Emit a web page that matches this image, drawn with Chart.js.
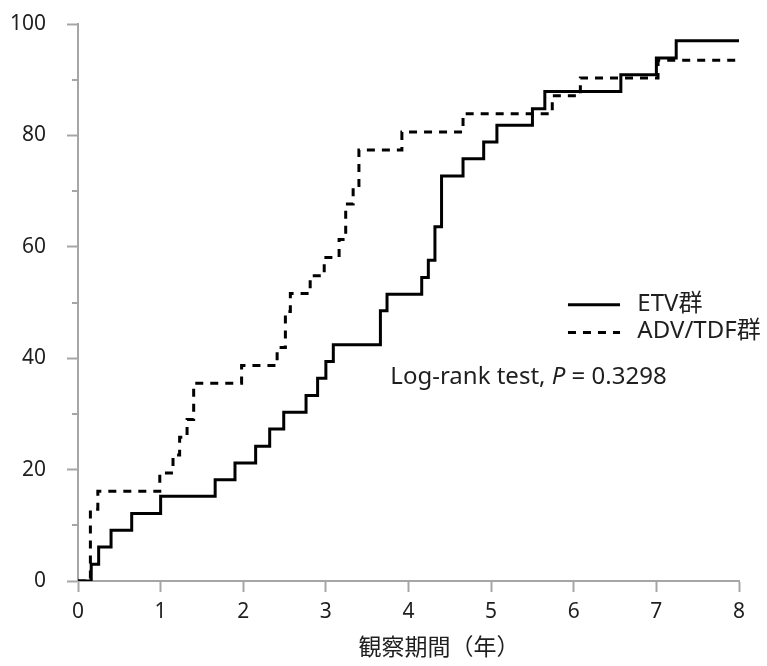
<!DOCTYPE html>
<html lang="ja">
<head>
<meta charset="utf-8">
<title>累積発生率</title>
<script src="https://cdn.jsdelivr.net/npm/chart.js@4/dist/chart.umd.min.js"></script>
<style>
  html, body { margin: 0; padding: 0; background: #fff; }
  #wrap { width: 767px; height: 666px; }
</style>
</head>
<body>
<div id="wrap"><canvas id="chart" width="767" height="666"></canvas></div>
<script>
// ETV群: event times (years) and cumulative rate (%)
const etvTime  = [0, 0.16, 0.25, 0.40, 0.65, 1.00, 1.66, 1.90, 2.15, 2.32, 2.49, 2.76, 2.90, 3.00, 3.09,
                  3.66, 3.74, 4.16, 4.24, 4.32, 4.40, 4.66, 4.91, 5.07, 5.50, 5.65, 6.57, 7.00, 7.24, 8.00];
const etvValue = [0, 3.0, 6.1, 9.1, 12.1, 15.2, 18.2, 21.2, 24.2, 27.3, 30.3, 33.3, 36.4, 39.4, 42.4,
                  48.5, 51.5, 54.5, 57.6, 63.6, 72.7, 75.8, 78.8, 81.8, 84.8, 87.9, 90.9, 93.9, 97.0, 97.0];

// ADV/TDF群
const advTime  = [0, 0.15, 0.24, 0.99, 1.15, 1.23, 1.32, 1.40, 1.98, 2.41, 2.51, 2.57, 2.81, 2.98,
                  3.16, 3.24, 3.33, 3.40, 3.92, 4.66, 5.74, 6.08, 7.02, 8.00];
const advValue = [0, 12.9, 16.1, 19.4, 22.6, 25.8, 29.0, 35.5, 38.7, 41.9, 48.4, 51.6, 54.8, 58.1,
                  61.3, 67.7, 71.0, 77.4, 80.6, 83.9, 87.1, 90.3, 93.5, 93.5];

const seriesLabels = ['ETV群', 'ADV/TDF群'];
const xTitle = '観察期間（年）';
const testLabel = 'Log-rank test, ';
const testP = 'P';
const testValue = ' = 0.3298';

const axisGrey = '#a6a6a6';
const textColor = '#1f1f1f';
const fontFamily = "'Noto Sans', 'Noto Sans CJK JP', sans-serif";

Chart.defaults.font.family = fontFamily;
Chart.defaults.color = textColor;

function toPoints(times, values) {
    return times.map((t, i) => ({ x: t, y: values[i] }));
}

// minor ticks, axis title, legend and test result drawn on top of the plot
const overlayPlugin = {
    id: 'overlay',
    afterDraw(chart) {
        const ctx = chart.ctx;
        const xs = chart.scales.x;
        const ys = chart.scales.y;
        const area = chart.chartArea;

        ctx.save();
        ctx.strokeStyle = axisGrey;
        ctx.lineWidth = 2;
        for (let v = 10; v < 100; v += 20) {
            const py = Math.round(ys.getPixelForValue(v));
            ctx.beginPath();
            ctx.moveTo(area.left - 6, py);
            ctx.lineTo(area.left, py);
            ctx.stroke();
        }

        // x axis title, a little right of centre
        ctx.fillStyle = textColor;
        ctx.textBaseline = 'middle';
        ctx.textAlign = 'center';
        ctx.font = '23px ' + fontFamily;
        ctx.fillText(xTitle, xs.getPixelForValue(4.37), xs.bottom - 18);

        // legend
        const lx0 = xs.getPixelForValue(5.93);
        const lx1 = xs.getPixelForValue(6.56);
        const tx = xs.getPixelForValue(6.77);
        const rows = [ys.getPixelForValue(49.6), ys.getPixelForValue(44.6)];
        ctx.font = '24px ' + fontFamily;
        ctx.textAlign = 'left';
        chart.data.datasets.forEach((ds, i) => {
            ctx.strokeStyle = ds.borderColor;
            ctx.lineWidth = ds.borderWidth;
            ctx.setLineDash(ds.borderDash || []);
            ctx.beginPath();
            ctx.moveTo(lx0, rows[i]);
            ctx.lineTo(lx1, rows[i]);
            ctx.stroke();
            ctx.setLineDash([]);
            ctx.fillText(ds.label, tx, rows[i] - 1);
        });

        // log-rank test result
        let px = xs.getPixelForValue(3.78);
        const py = ys.getPixelForValue(36.6);
        ctx.font = '24px ' + fontFamily;
        ctx.fillText(testLabel, px, py);
        px += ctx.measureText(testLabel).width;
        ctx.font = 'italic 24px ' + fontFamily;
        ctx.fillText(testP, px, py);
        px += ctx.measureText(testP).width;
        ctx.font = '24px ' + fontFamily;
        ctx.fillText(testValue, px, py);
        ctx.restore();
    }
};

const ctx = document.getElementById('chart').getContext('2d');
const myChart = new Chart(ctx, {
    type: 'line',
    data: {
        datasets: [
            {
                label: seriesLabels[0],
                data: toPoints(etvTime, etvValue),
                borderColor: '#000',
                borderWidth: 3,
                stepped: 'before',
                pointRadius: 0,
                fill: false
            },
            {
                label: seriesLabels[1],
                data: toPoints(advTime, advValue),
                borderColor: '#000',
                borderWidth: 3,
                borderDash: [8, 7],
                stepped: 'before',
                pointRadius: 0,
                fill: false
            }
        ]
    },
    options: {
        responsive: false,
        animation: false,
        layout: { padding: { top: 24, right: 28, bottom: 0, left: 0 } },
        plugins: {
            legend: { display: false },
            tooltip: { enabled: false }
        },
        scales: {
            x: {
                type: 'linear',
                min: 0,
                max: 8,
                ticks: { stepSize: 1, color: textColor, font: { size: 21 }, padding: 7 },
                grid: { drawOnChartArea: false, tickLength: 11, tickColor: axisGrey, tickWidth: 2 },
                border: { color: axisGrey, width: 2 },
                title: { display: false, text: xTitle },
                afterFit: scale => { scale.height = 85; }
            },
            y: {
                min: 0,
                max: 100,
                ticks: { stepSize: 20, color: textColor, font: { size: 21 }, padding: 21 },
                grid: { drawOnChartArea: false, tickLength: 11, tickColor: axisGrey, tickWidth: 2 },
                border: { color: axisGrey, width: 2 },
                afterFit: scale => {
                    scale.width = 78;
                    // label padding is horizontal only here
                    scale.paddingTop = 12;
                    scale.paddingBottom = 12;
                }
            }
        }
    },
    plugins: [overlayPlugin]
});
</script>
</body>
</html>
